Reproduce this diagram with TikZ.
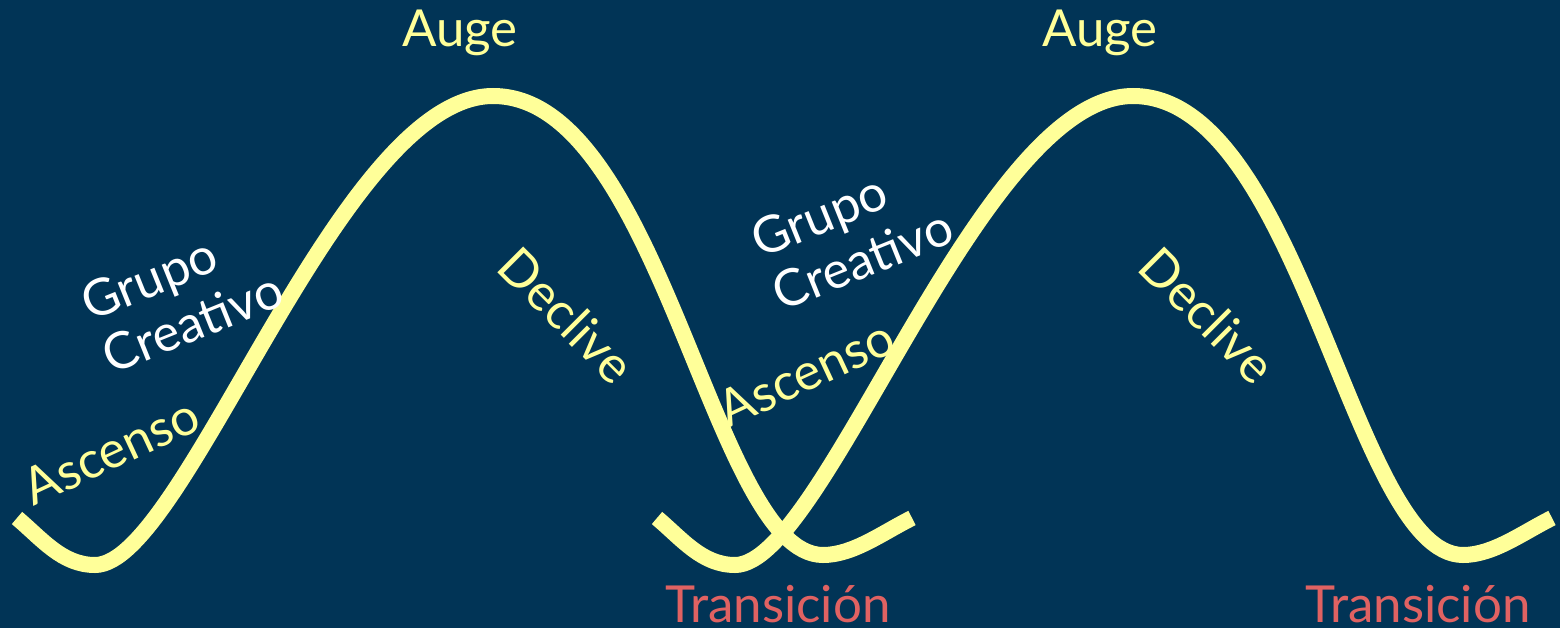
\documentclass[tikz,border=0pt]{standalone}
\usepackage{fontspec}
\setmainfont{Lato}
\definecolor{bg}{RGB}{1,52,86}
\definecolor{curve}{RGB}{255,255,153}
\definecolor{trans}{RGB}{224,98,98}
\tikzset{
  wave/.style={draw=curve, line width=16pt, line cap=butt},
  big/.style={font=\fontsize{51}{60}\selectfont, inner sep=0pt},
  grp/.style={font=\fontsize{51}{57}\selectfont, inner sep=0pt, align=left, text=white, rotate=22},
  yel/.style={text=curve},
}
\begin{document}
\begin{tikzpicture}[x=1pt,y=-1pt]
\path[fill=bg] (0,0) rectangle (1560,628);
\useasboundingbox (0,0) rectangle (1560,628);
\foreach \dx in {0,640}{
  \begin{scope}[xshift=\dx pt]
  \draw[wave] (17,518) .. controls (42,539) and (62,565) .. (95,565)
    .. controls (185,565) and (339,96) .. (493,96)
    .. controls (661,96) and (713,555) .. (823,555)
    .. controls (853,555) and (882,533) .. (912,518);
  \end{scope}
}
\node[big,yel,anchor=base] (auge1) at (460,47) {Auge};
\node[big,yel,anchor=base] (auge2) at (1100,47) {Auge};
\node[big,text=trans,anchor=base] (tr1) at (778,622) {Transición};
\node[big,text=trans,anchor=base] (tr2) at (1418,622) {Transición};
\node[big,yel,rotate=-45] (dec1) at (567,315) {Declive};
\node[big,yel,rotate=-45] (dec2) at (1208,315) {Declive};
\node[big,yel,rotate=25] (asc1) at (111,451) {Ascenso};
\node[big,yel,rotate=25] (asc2) at (806,373) {Ascenso};
\node[grp] (gc1) at (182,296) {Grupo\\Creativo};
\node[grp] (gc2) at (852,233) {Grupo\\Creativo};
\end{tikzpicture}
\end{document}
